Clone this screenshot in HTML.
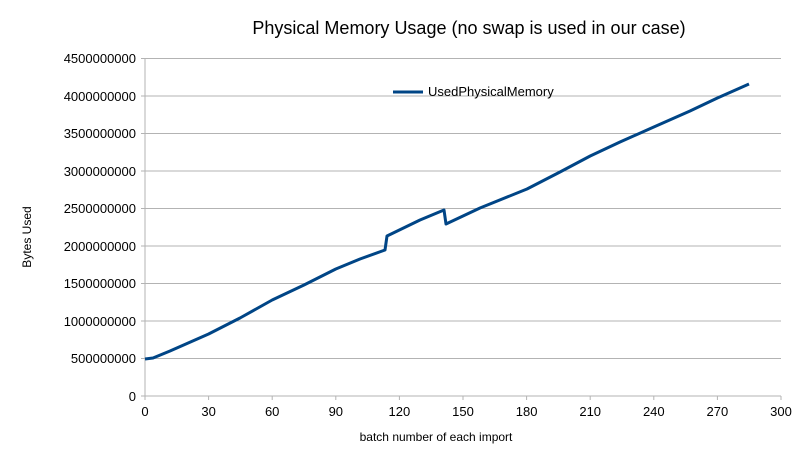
<!DOCTYPE html>
<html><head><meta charset="utf-8"><style>body{margin:0;background:#fff}</style></head><body>
<svg width="808" height="465" xmlns="http://www.w3.org/2000/svg" font-family="Liberation Sans, sans-serif">
<rect width="808" height="465" fill="#fff"/>
<text x="469" y="34" font-size="18" text-anchor="middle" fill="#000">Physical Memory Usage (no swap is used in our case)</text>
<g stroke="#b3b3b3" stroke-width="1">
<line x1="145" y1="58.5" x2="781" y2="58.5"/><line x1="145" y1="96" x2="781" y2="96"/>
<line x1="145" y1="133.5" x2="781" y2="133.5"/><line x1="145" y1="171" x2="781" y2="171"/>
<line x1="145" y1="208.5" x2="781" y2="208.5"/><line x1="145" y1="246" x2="781" y2="246"/>
<line x1="145" y1="283.5" x2="781" y2="283.5"/><line x1="145" y1="321" x2="781" y2="321"/>
<line x1="145" y1="358.5" x2="781" y2="358.5"/><line x1="145" y1="396" x2="781" y2="396"/>
<line x1="145" y1="58.5" x2="145" y2="400"/>
<line x1="208.6" y1="396" x2="208.6" y2="400"/><line x1="272.2" y1="396" x2="272.2" y2="400"/>
<line x1="335.8" y1="396" x2="335.8" y2="400"/><line x1="399.4" y1="396" x2="399.4" y2="400"/>
<line x1="463" y1="396" x2="463" y2="400"/><line x1="526.6" y1="396" x2="526.6" y2="400"/>
<line x1="590.2" y1="396" x2="590.2" y2="400"/><line x1="653.8" y1="396" x2="653.8" y2="400"/>
<line x1="717.4" y1="396" x2="717.4" y2="400"/><line x1="781" y1="396" x2="781" y2="400"/>
<line x1="141" y1="58.5" x2="145" y2="58.5"/><line x1="141" y1="96" x2="145" y2="96"/><line x1="141" y1="133.5" x2="145" y2="133.5"/><line x1="141" y1="171" x2="145" y2="171"/><line x1="141" y1="208.5" x2="145" y2="208.5"/><line x1="141" y1="246" x2="145" y2="246"/><line x1="141" y1="283.5" x2="145" y2="283.5"/><line x1="141" y1="321" x2="145" y2="321"/><line x1="141" y1="358.5" x2="145" y2="358.5"/><line x1="141" y1="396" x2="145" y2="396"/>
</g>
<g font-size="13" fill="#000" text-anchor="end">
<text x="136" y="63">4500000000</text><text x="136" y="101">4000000000</text><text x="136" y="138">3500000000</text><text x="136" y="176">3000000000</text><text x="136" y="213">2500000000</text><text x="136" y="251">2000000000</text><text x="136" y="288">1500000000</text><text x="136" y="326">1000000000</text><text x="136" y="363">500000000</text><text x="136" y="401">0</text>
</g>
<g font-size="13" fill="#000" text-anchor="middle">
<text x="145" y="416">0</text><text x="208.6" y="416">30</text><text x="272.2" y="416">60</text><text x="335.8" y="416">90</text><text x="399.4" y="416">120</text><text x="463" y="416">150</text><text x="526.6" y="416">180</text><text x="590.2" y="416">210</text><text x="653.8" y="416">240</text><text x="717.4" y="416">270</text><text x="781" y="416">300</text>
</g>
<text x="436" y="441" font-size="12" text-anchor="middle">batch number of each import</text>
<text x="31" y="237" font-size="12" text-anchor="middle" transform="rotate(-90 31 237)">Bytes Used</text>
<polyline fill="none" stroke="#004586" stroke-width="3" stroke-linejoin="round" points="145,359 153,358 170,351 208.6,334 240,318 272.2,300 304,285 335.8,269 360,259 385,250 387,236 420,220 444,210 446,224 480,208 527,189 560,172 590.2,156 620,142 653.8,127 690,111 717.4,98 740,88 749,84"/>
<line x1="393" y1="92" x2="423" y2="92" stroke="#004586" stroke-width="3"/>
<text x="428" y="96" font-size="13">UsedPhysicalMemory</text>
</svg>
</body></html>
